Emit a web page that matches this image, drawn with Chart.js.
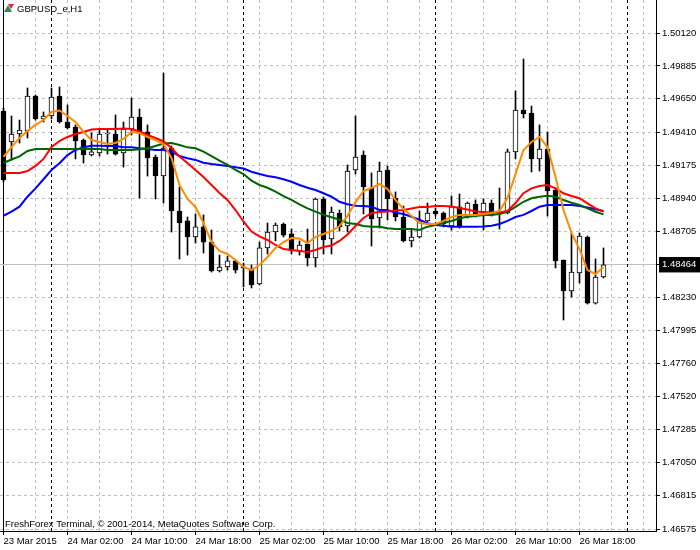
<!DOCTYPE html>
<html>
<head>
<title>GBPUSD_e,H1</title>
<script src="https://cdn.jsdelivr.net/npm/chart.js"></script>
<style>body{margin:0;background:#fff}</style>
</head>
<body>
<canvas id="chart" width="700" height="550"></canvas>
<script>
// H1 bars, 23 Mar 2015 18:00 .. 26 Mar 2015 21:00
const opens = [1.49563,1.49341,1.49398,1.49420,1.49670,1.49506,1.49527,1.49670,1.49484,1.49448,
  1.49355,1.49248,1.49263,1.49398,1.49398,1.49263,1.49434,1.49520,1.49413,1.49234,
  1.49098,1.49298,1.48848,1.48777,1.48662,1.48734,1.48626,1.48419,1.48448,1.48491,
  1.48448,1.48433,1.48326,1.48584,1.48698,1.48755,1.48684,1.48562,1.48612,1.48512,
  1.48934,1.48648,1.48834,1.48741,1.49141,1.49248,1.49012,1.48798,1.49141,1.48941,
  1.48805,1.48634,1.48662,1.48777,1.48848,1.48834,1.48741,1.48877,1.48805,1.48898,
  1.48812,1.48905,1.48827,1.48834,1.49270,1.49570,1.49548,1.49220,1.49291,1.48998,
  1.48498,1.48276,1.48405,1.48662,1.48190,1.48376];
const highs = [1.49584,1.49527,1.49498,1.49727,1.49677,1.49556,1.49727,1.49734,1.49606,1.49463,
  1.49363,1.49406,1.49427,1.49434,1.49534,1.49484,1.49656,1.49577,1.49463,1.49248,
  1.49834,1.49313,1.49020,1.48805,1.48827,1.48820,1.48712,1.48533,1.48526,1.48498,
  1.48476,1.48462,1.48626,1.48762,1.48762,1.48762,1.48719,1.48634,1.48719,1.48941,
  1.48948,1.48877,1.48855,1.49177,1.49527,1.49277,1.49120,1.49198,1.49170,1.48984,
  1.48884,1.48712,1.48848,1.48905,1.48870,1.48841,1.48955,1.48970,1.48912,1.48927,
  1.48934,1.48927,1.49012,1.49291,1.49706,1.49934,1.49598,1.49463,1.49413,1.49012,
  1.48498,1.48691,1.48691,1.48669,1.48505,1.48584];
const lows = [1.49055,1.49213,1.49334,1.49370,1.49498,1.49484,1.49506,1.49477,1.49434,1.49220,
  1.49191,1.49241,1.49241,1.49255,1.49248,1.49162,1.49391,1.48941,1.49098,1.48934,
  1.48905,1.48698,1.48505,1.48533,1.48619,1.48548,1.48412,1.48412,1.48426,1.48405,
  1.48305,1.48298,1.48319,1.48541,1.48634,1.48662,1.48541,1.48533,1.48455,1.48448,
  1.48541,1.48541,1.48705,1.48698,1.49112,1.48827,1.48598,1.48726,1.48784,1.48777,
  1.48627,1.48591,1.48655,1.48770,1.48812,1.48734,1.48712,1.48726,1.48798,1.48805,
  1.48712,1.48812,1.48719,1.48827,1.49220,1.49513,1.49127,1.49134,1.48812,1.48441,
  1.48069,1.48233,1.48333,1.48183,1.48183,1.48369];
const closes = [1.49070,1.49398,1.49427,1.49670,1.49506,1.49527,1.49663,1.49484,1.49441,1.49348,
  1.49248,1.49270,1.49398,1.49402,1.49255,1.49434,1.49520,1.49406,1.49227,1.49098,
  1.49298,1.48848,1.48762,1.48662,1.48734,1.48626,1.48419,1.48448,1.48491,1.48426,
  1.48441,1.48319,1.48584,1.48698,1.48748,1.48676,1.48562,1.48605,1.48512,1.48934,
  1.48641,1.48841,1.48734,1.49134,1.49234,1.49020,1.48791,1.49134,1.48934,1.48805,
  1.48634,1.48662,1.48777,1.48834,1.48827,1.48755,1.48877,1.48734,1.48905,1.48820,
  1.48905,1.48827,1.48834,1.49270,1.49570,1.49541,1.49220,1.49291,1.48991,1.48491,
  1.48276,1.48412,1.48669,1.48190,1.48376,1.48464];

// moving averages (orange, red, green, blue)
const maFast = [1.49234,1.49305,1.49370,1.49420,1.49463,1.49498,1.49556,1.49566,1.49527,1.49484,
  1.49413,1.49355,1.49341,1.49327,1.49334,1.49363,1.49413,1.49405,1.49377,1.49355,
  1.49327,1.49227,1.49034,1.48934,1.48877,1.48762,1.48626,1.48562,1.48541,1.48498,
  1.48448,1.48426,1.48462,1.48519,1.48584,1.48626,1.48655,1.48651,1.48619,1.48662,
  1.48684,1.48705,1.48741,1.48812,1.48912,1.48991,1.49012,1.49041,1.49005,1.48927,
  1.48862,1.48812,1.48762,1.48755,1.48755,1.48777,1.48805,1.48820,1.48820,1.48820,
  1.48827,1.48834,1.48848,1.48941,1.49112,1.49284,1.49341,1.49377,1.49305,1.49091,
  1.48855,1.48691,1.48576,1.48426,1.48398,1.48448];
const maMid = [1.49120,1.49120,1.49120,1.49134,1.49170,1.49220,1.49305,1.49348,1.49377,1.49398,
  1.49413,1.49430,1.49434,1.49434,1.49434,1.49438,1.49434,1.49416,1.49391,1.49370,
  1.49345,1.49298,1.49238,1.49191,1.49141,1.49091,1.49034,1.48977,1.48927,1.48855,
  1.48773,1.48701,1.48666,1.48641,1.48605,1.48576,1.48569,1.48562,1.48555,1.48569,
  1.48591,1.48601,1.48634,1.48680,1.48741,1.48798,1.48834,1.48841,1.48844,1.48852,
  1.48855,1.48866,1.48877,1.48877,1.48884,1.48884,1.48880,1.48869,1.48859,1.48844,
  1.48841,1.48837,1.48837,1.48848,1.48905,1.48975,1.49010,1.49027,1.49034,1.49010,
  1.48975,1.48955,1.48939,1.48903,1.48867,1.48843];
const maSlow = [1.49191,1.49216,1.49238,1.49277,1.49291,1.49291,1.49291,1.49291,1.49291,1.49291,
  1.49291,1.49291,1.49291,1.49284,1.49284,1.49284,1.49284,1.49289,1.49296,1.49313,
  1.49330,1.49334,1.49320,1.49303,1.49296,1.49272,1.49241,1.49208,1.49177,1.49141,
  1.49112,1.49065,1.49034,1.49014,1.48986,1.48955,1.48927,1.48896,1.48867,1.48843,
  1.48820,1.48803,1.48786,1.48762,1.48755,1.48741,1.48736,1.48736,1.48724,1.48719,
  1.48719,1.48719,1.48712,1.48736,1.48748,1.48764,1.48777,1.48796,1.48807,1.48812,
  1.48820,1.48820,1.48827,1.48843,1.48877,1.48914,1.48939,1.48950,1.48957,1.48950,
  1.48927,1.48907,1.48891,1.48867,1.48843,1.48824];
const maLong = [1.48814,1.48843,1.48879,1.48950,1.49010,1.49075,1.49141,1.49189,1.49248,1.49284,
  1.49303,1.49315,1.49315,1.49313,1.49313,1.49303,1.49303,1.49296,1.49291,1.49284,
  1.49284,1.49272,1.49241,1.49225,1.49213,1.49193,1.49184,1.49177,1.49170,1.49160,
  1.49152,1.49129,1.49112,1.49098,1.49089,1.49075,1.49057,1.49034,1.49014,1.48998,
  1.48975,1.48950,1.48914,1.48896,1.48886,1.48884,1.48879,1.48855,1.48855,1.48836,
  1.48827,1.48807,1.48786,1.48760,1.48748,1.48743,1.48736,1.48736,1.48736,1.48736,
  1.48737,1.48743,1.48755,1.48777,1.48805,1.48820,1.48848,1.48879,1.48891,1.48891,
  1.48891,1.48891,1.48884,1.48874,1.48860,1.48848];

// one label every 8 bars, starting at bar 0
const xTickLabels = ['23 Mar 2015','24 Mar 02:00','24 Mar 10:00','24 Mar 18:00','25 Mar 02:00',
  '25 Mar 10:00','25 Mar 18:00','26 Mar 02:00','26 Mar 10:00','26 Mar 18:00'];
const yTickValues = [1.50120,1.49885,1.49650,1.49410,1.49175,1.48940,1.48705,
  1.48230,1.47995,1.47760,1.47520,1.47285,1.47050,1.46815,1.46575];
const bidPrice = 1.48464;
const daySeparators = [6, 30, 54, 78]; // bar index of 00:00

const idx = opens.map((_, i) => i);
const bodies = idx.map(i => ({x: i, y: [opens[i], closes[i]]}));
const wicks = idx.map(i => ({x: i, y: [lows[i], highs[i]]}));
const bodyColors = idx.map(i => closes[i] >= opens[i] ? '#ffffff' : '#000000');
const asLine = arr => arr.map((v, i) => ({x: i, y: v}));

const fontFamily = "'Liberation Sans', Arial, sans-serif";
const font = {family: fontFamily, size: 9.5};

const overlay = {
    id: 'overlay',
    beforeDatasetsDraw(chart) {
        const {ctx, chartArea, scales: {x}} = chart;
        ctx.save();
        ctx.strokeStyle = '#000';
        ctx.lineWidth = 1;
        ctx.setLineDash([3, 3]);
        daySeparators.forEach(b => {
            const px = x.getPixelForValue(b);
            ctx.beginPath();
            ctx.moveTo(px, chartArea.top);
            ctx.lineTo(px, chartArea.bottom);
            ctx.stroke();
        });
        ctx.restore();
    },
    afterDraw(chart) {
        const {ctx, chartArea} = chart;
        ctx.save();
        // small symbol icon
        ctx.fillStyle = '#2e8b57';
        ctx.beginPath();
        ctx.moveTo(4, 12); ctx.lineTo(8, 5); ctx.lineTo(12, 12); ctx.closePath();
        ctx.fill();
        ctx.fillStyle = '#d03030';
        ctx.beginPath();
        ctx.moveTo(8, 4); ctx.lineTo(14, 4); ctx.lineTo(11, 9); ctx.closePath();
        ctx.fill();
        ctx.fillStyle = '#000';
        ctx.font = '9.5px ' + fontFamily;
        ctx.textBaseline = 'middle';
        ctx.fillText('GBPUSD_e,H1', 17, 9);
        ctx.fillText('FreshForex Terminal, \u00a9 2001-2014, MetaQuotes Software Corp.', chartArea.left + 5, chartArea.bottom - 7);
        ctx.restore();
    }
};

new Chart(document.getElementById('chart'), {
    type: 'bar',
    data: {
        datasets: [
            {type: 'line', data: asLine(maFast), borderColor: '#ff8c00', borderWidth: 2, pointRadius: 0, order: 1},
            {type: 'line', data: asLine(maMid), borderColor: '#ff0000', borderWidth: 2, pointRadius: 0, order: 1},
            {type: 'line', data: asLine(maSlow), borderColor: '#006400', borderWidth: 2, pointRadius: 0, order: 1},
            {type: 'line', data: asLine(maLong), borderColor: '#0000ff', borderWidth: 2, pointRadius: 0, order: 1},
            {data: bodies, backgroundColor: bodyColors, borderColor: '#000', borderWidth: 1,
             borderSkipped: false, barThickness: 5, minBarLength: 1, grouped: false, order: 5},
            {data: wicks, backgroundColor: '#000', borderWidth: 0, barThickness: 1, grouped: false, order: 6}
        ]
    },
    options: {
        responsive: false,
        animation: false,
        devicePixelRatio: 1,
        events: [],
        layout: {padding: 0},
        plugins: {legend: {display: false}, tooltip: {enabled: false}},
        scales: {
            x: {
                type: 'linear',
                min: -0.4375,
                max: 81.5625,
                offset: false,
                afterBuildTicks: s => {
                    s.ticks = [];
                    for (let b = 0; b <= 80; b += 4) s.ticks.push({value: b});
                },
                afterFit: s => { s.height = 19; s.paddingLeft = 0; s.paddingRight = 0; },
                grid: {
                    offset: false,
                    color: c => c.tick && c.tick.value === 0 ? '#000' : '#c0c0c0',
                    tickLength: 4,
                    tickBorderDash: [],
                    tickColor: c => c.tick && c.tick.value % 8 === 0 && c.tick.value <= 72 ? '#000' : 'rgba(0,0,0,0)'
                },
                border: {display: true, color: '#000', width: 1,
                         dash: c => c.tick && c.tick.value === 0 ? [] : [3, 3]},
                ticks: {
                    autoSkip: false, maxRotation: 0, align: 'start', padding: 1, color: '#000', font,
                    callback: v => (v % 8 === 0 && xTickLabels[v / 8]) || ''
                }
            },
            y: {
                position: 'right',
                min: 1.46561,
                max: 1.50356,
                afterBuildTicks: s => {
                    s.ticks = yTickValues.concat([bidPrice]).sort((a, b) => a - b).map(v => ({value: v}));
                },
                afterFit: s => { s.width = 44; s.paddingTop = 0; s.paddingBottom = 0; },
                grid: {
                    color: '#c0c0c0',
                    tickLength: 4,
                    tickBorderDash: [],
                    tickColor: '#000'
                },
                border: {display: true, color: '#000', width: 1,
                         dash: c => c.tick && c.tick.value === bidPrice ? [] : [3, 3]},
                ticks: {
                    autoSkip: false, padding: 2, font,
                    color: c => c.tick && c.tick.value === bidPrice ? '#fff' : '#000',
                    showLabelBackdrop: c => !!(c.tick && c.tick.value === bidPrice),
                    backdropColor: '#000',
                    backdropPadding: {top: 2, bottom: 2, left: 3, right: 8},
                    callback: v => v.toFixed(5)
                }
            }
        }
    },
    plugins: [overlay]
});
</script>
</body>
</html>
